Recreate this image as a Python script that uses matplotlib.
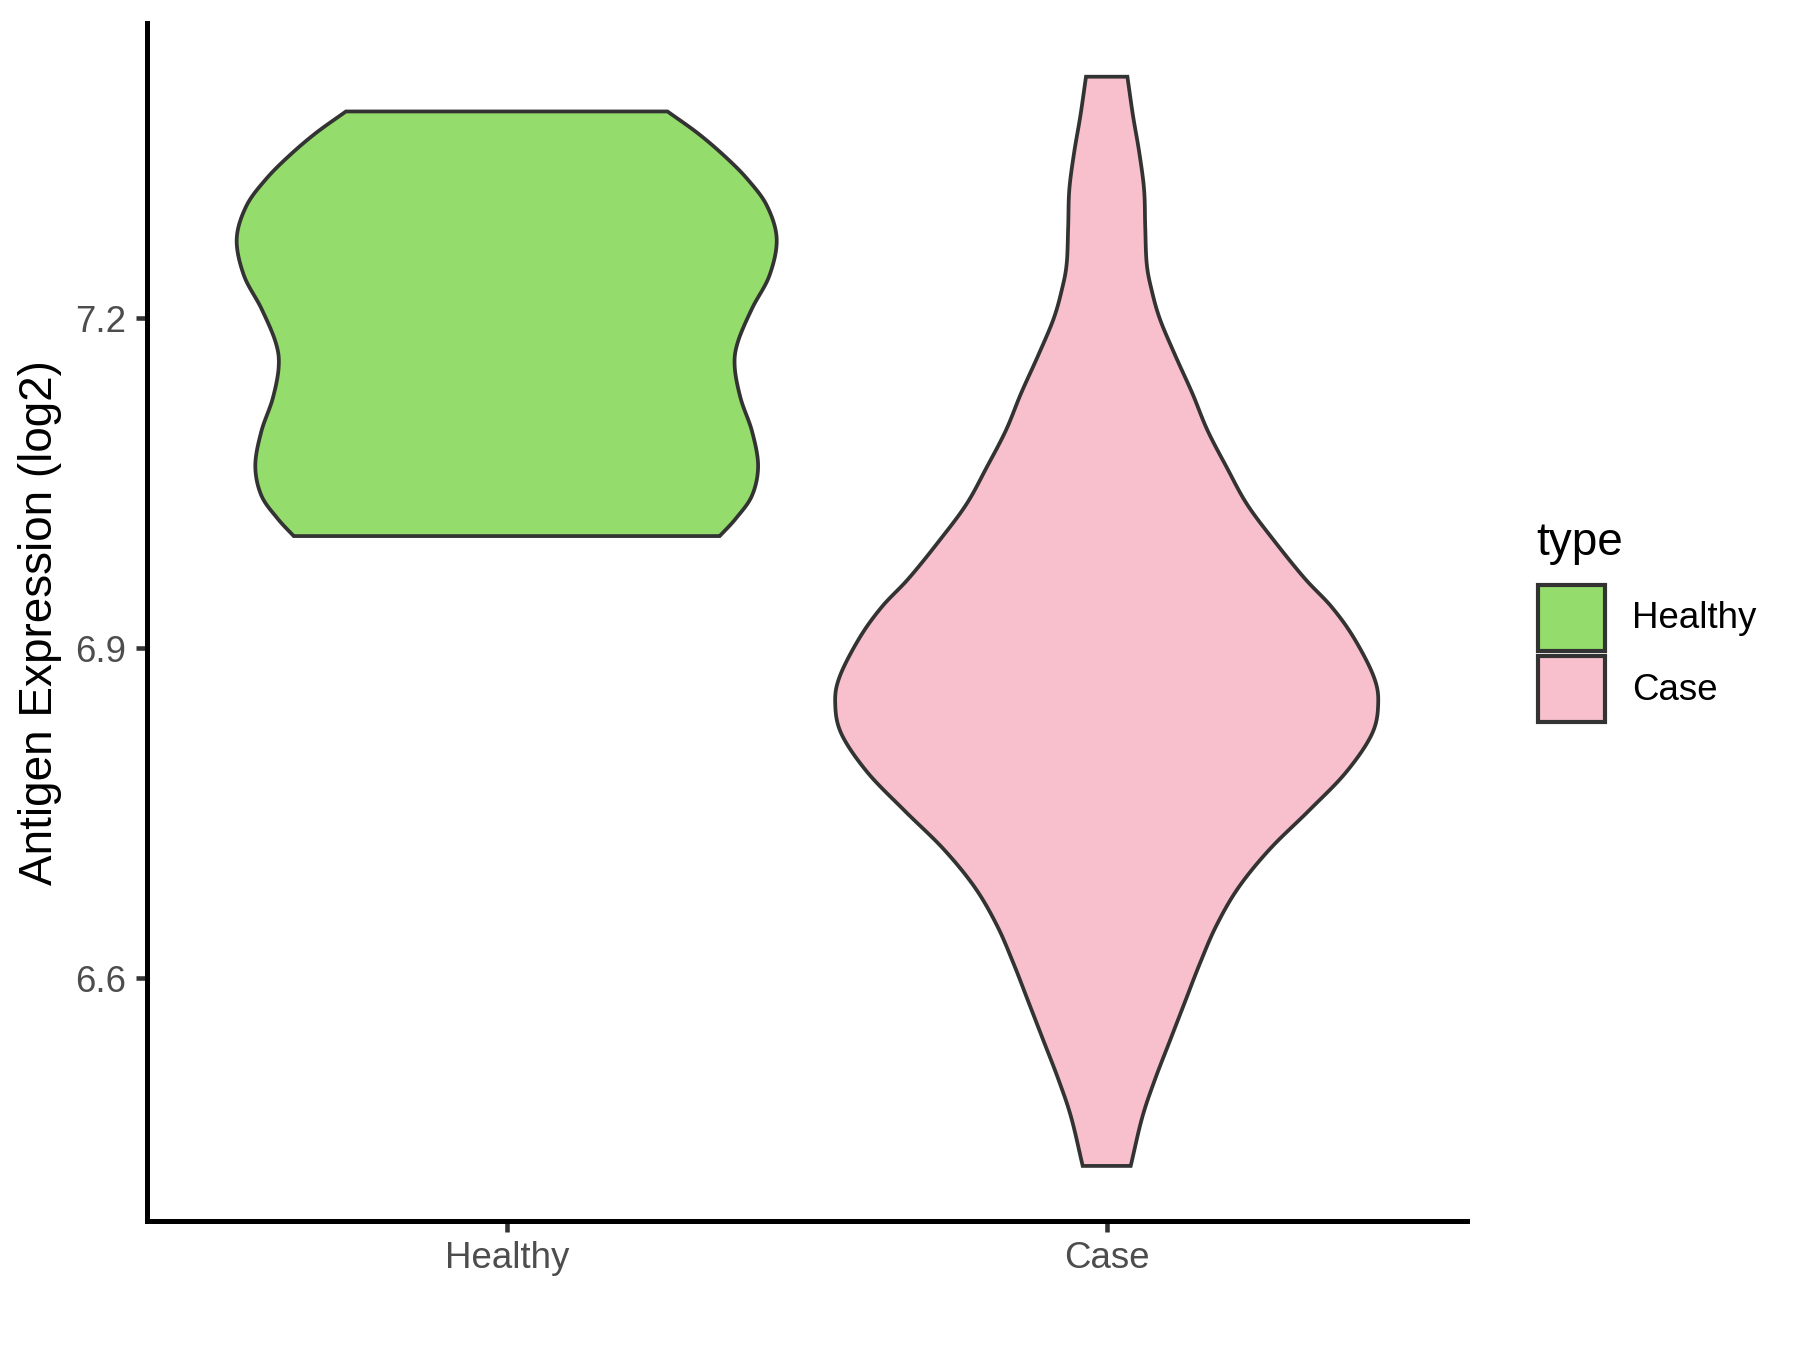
import numpy as np
import matplotlib
matplotlib.use("Agg")
import matplotlib.pyplot as plt
from matplotlib.patches import Rectangle

plt.rcParams['font.family'] = ['Liberation Sans', 'DejaVu Sans']

# ---- data ----
categories = ["Healthy", "Case"]
fill_colors = ["#94DC6B", "#F7C0CC"]

# Healthy violin outline: expression value and half-width (x units)
healthy_y = [7.388, 7.368, 7.347, 7.326, 7.302, 7.272, 7.239, 7.209,
             7.178, 7.156, 7.127, 7.097, 7.066, 7.039, 7.018, 7.002]
healthy_hw = [0.268, 0.319, 0.364, 0.402, 0.434, 0.450, 0.438, 0.409,
              0.385, 0.380, 0.390, 0.409, 0.419, 0.409, 0.382, 0.355]

# Case violin outline
case_y = [7.4196, 7.3843, 7.3506, 7.3170, 7.2833, 7.2496, 7.2261, 7.1991,
          7.1655, 7.1318, 7.0981, 7.0645, 7.0308, 6.9971, 6.9635, 6.9375,
          6.9094, 6.8743, 6.8499, 6.8220, 6.7872, 6.7524, 6.7175, 6.6826,
          6.6478, 6.6130, 6.5782, 6.5434, 6.5085, 6.4737, 6.4294]
case_hw = [0.0345, 0.0438, 0.0543, 0.0623, 0.0642, 0.0667, 0.0747, 0.0888,
           0.1148, 0.1427, 0.1680, 0.2000, 0.2340, 0.2800, 0.3300, 0.3750,
           0.4120, 0.4450, 0.4525, 0.4420, 0.3988, 0.3370, 0.2720, 0.2198,
           0.1827, 0.1550, 0.1302, 0.1055, 0.0808, 0.0593, 0.0400]

y_ticks = [6.6, 6.9, 7.2]
y_tick_labels = ["6.6", "6.9", "7.2"]
y_label = "Antigen Expression (log2)"
legend_title = "type"

outline = "#333333"


def smooth_curve(ys, hws, n=12):
    """Catmull-Rom rendering of the outline through the read points."""
    P = np.column_stack([ys, hws]).astype(float)
    P = np.vstack([P[0] * 2 - P[1], P, P[-1] * 2 - P[-2]])
    out = []
    t = np.linspace(0, 1, n, endpoint=False)[:, None]
    for i in range(1, len(P) - 2):
        p0, p1, p2, p3 = P[i - 1], P[i], P[i + 1], P[i + 2]
        seg = 0.5 * ((2 * p1) + (-p0 + p2) * t
                     + (2 * p0 - 5 * p1 + 4 * p2 - p3) * t ** 2
                     + (-p0 + 3 * p1 - 3 * p2 + p3) * t ** 3)
        out.append(seg)
    out.append(P[-2][None, :])
    out = np.vstack(out)
    return out[:, 0], out[:, 1]


fig = plt.figure(figsize=(6, 4.5), dpi=300)
ax = fig.add_axes([146.7 / 1800, 1 - 1220.7 / 1350, 1320 / 1800, 1198 / 1350])

profiles = [(healthy_y, healthy_hw), (case_y, case_hw)]
for i, ((ys, hws), col) in enumerate(zip(profiles, fill_colors)):
    pos = i + 1
    sy, shw = smooth_curve(ys, hws)
    xs = np.concatenate([pos - shw, (pos + shw)[::-1]])
    yy = np.concatenate([sy, sy[::-1]])
    ax.fill(xs, yy, facecolor=col, edgecolor=outline, linewidth=0.9,
            joinstyle='miter', zorder=2)

ax.set_xlim(0.4, 2.6)
ax.set_ylim(6.3796, 7.4687)
ax.set_xticks([1, 2])
ax.set_xticklabels(categories)
ax.set_yticks(y_ticks)
ax.set_yticklabels(y_tick_labels)

for s in ["top", "right"]:
    ax.spines[s].set_visible(False)
for s in ["left", "bottom"]:
    ax.spines[s].set_linewidth(1.2)
    ax.spines[s].set_color("black")
    ax.spines[s].set_capstyle("projecting")

ax.tick_params(axis="both", length=2.75, width=1.1, color="#333333",
               labelcolor="#4D4D4D", labelsize=8.8, pad=2.2)

fig.text(40 / 1800, 1 - 623 / 1350, y_label, rotation=90, ha="center",
         va="center", fontsize=11, color="black")

# legend
fig.text(1536 / 1800, 1 - 555 / 1350, legend_title, ha="left",
         va="baseline", fontsize=11, color="black")
key_tops = [585, 656]
for col, lab, top in zip(fill_colors, categories, key_tops):
    fig.add_artist(Rectangle((1538 / 1800, 1 - (top + 66) / 1350),
                             67 / 1800, 66 / 1350, transform=fig.transFigure,
                             facecolor=col, edgecolor=outline, linewidth=1.0))
    fig.text(1632 / 1800, 1 - (top + 34) / 1350, lab, ha="left",
             va="center", fontsize=8.8, color="black")

fig.savefig("out.png", dpi=300)
